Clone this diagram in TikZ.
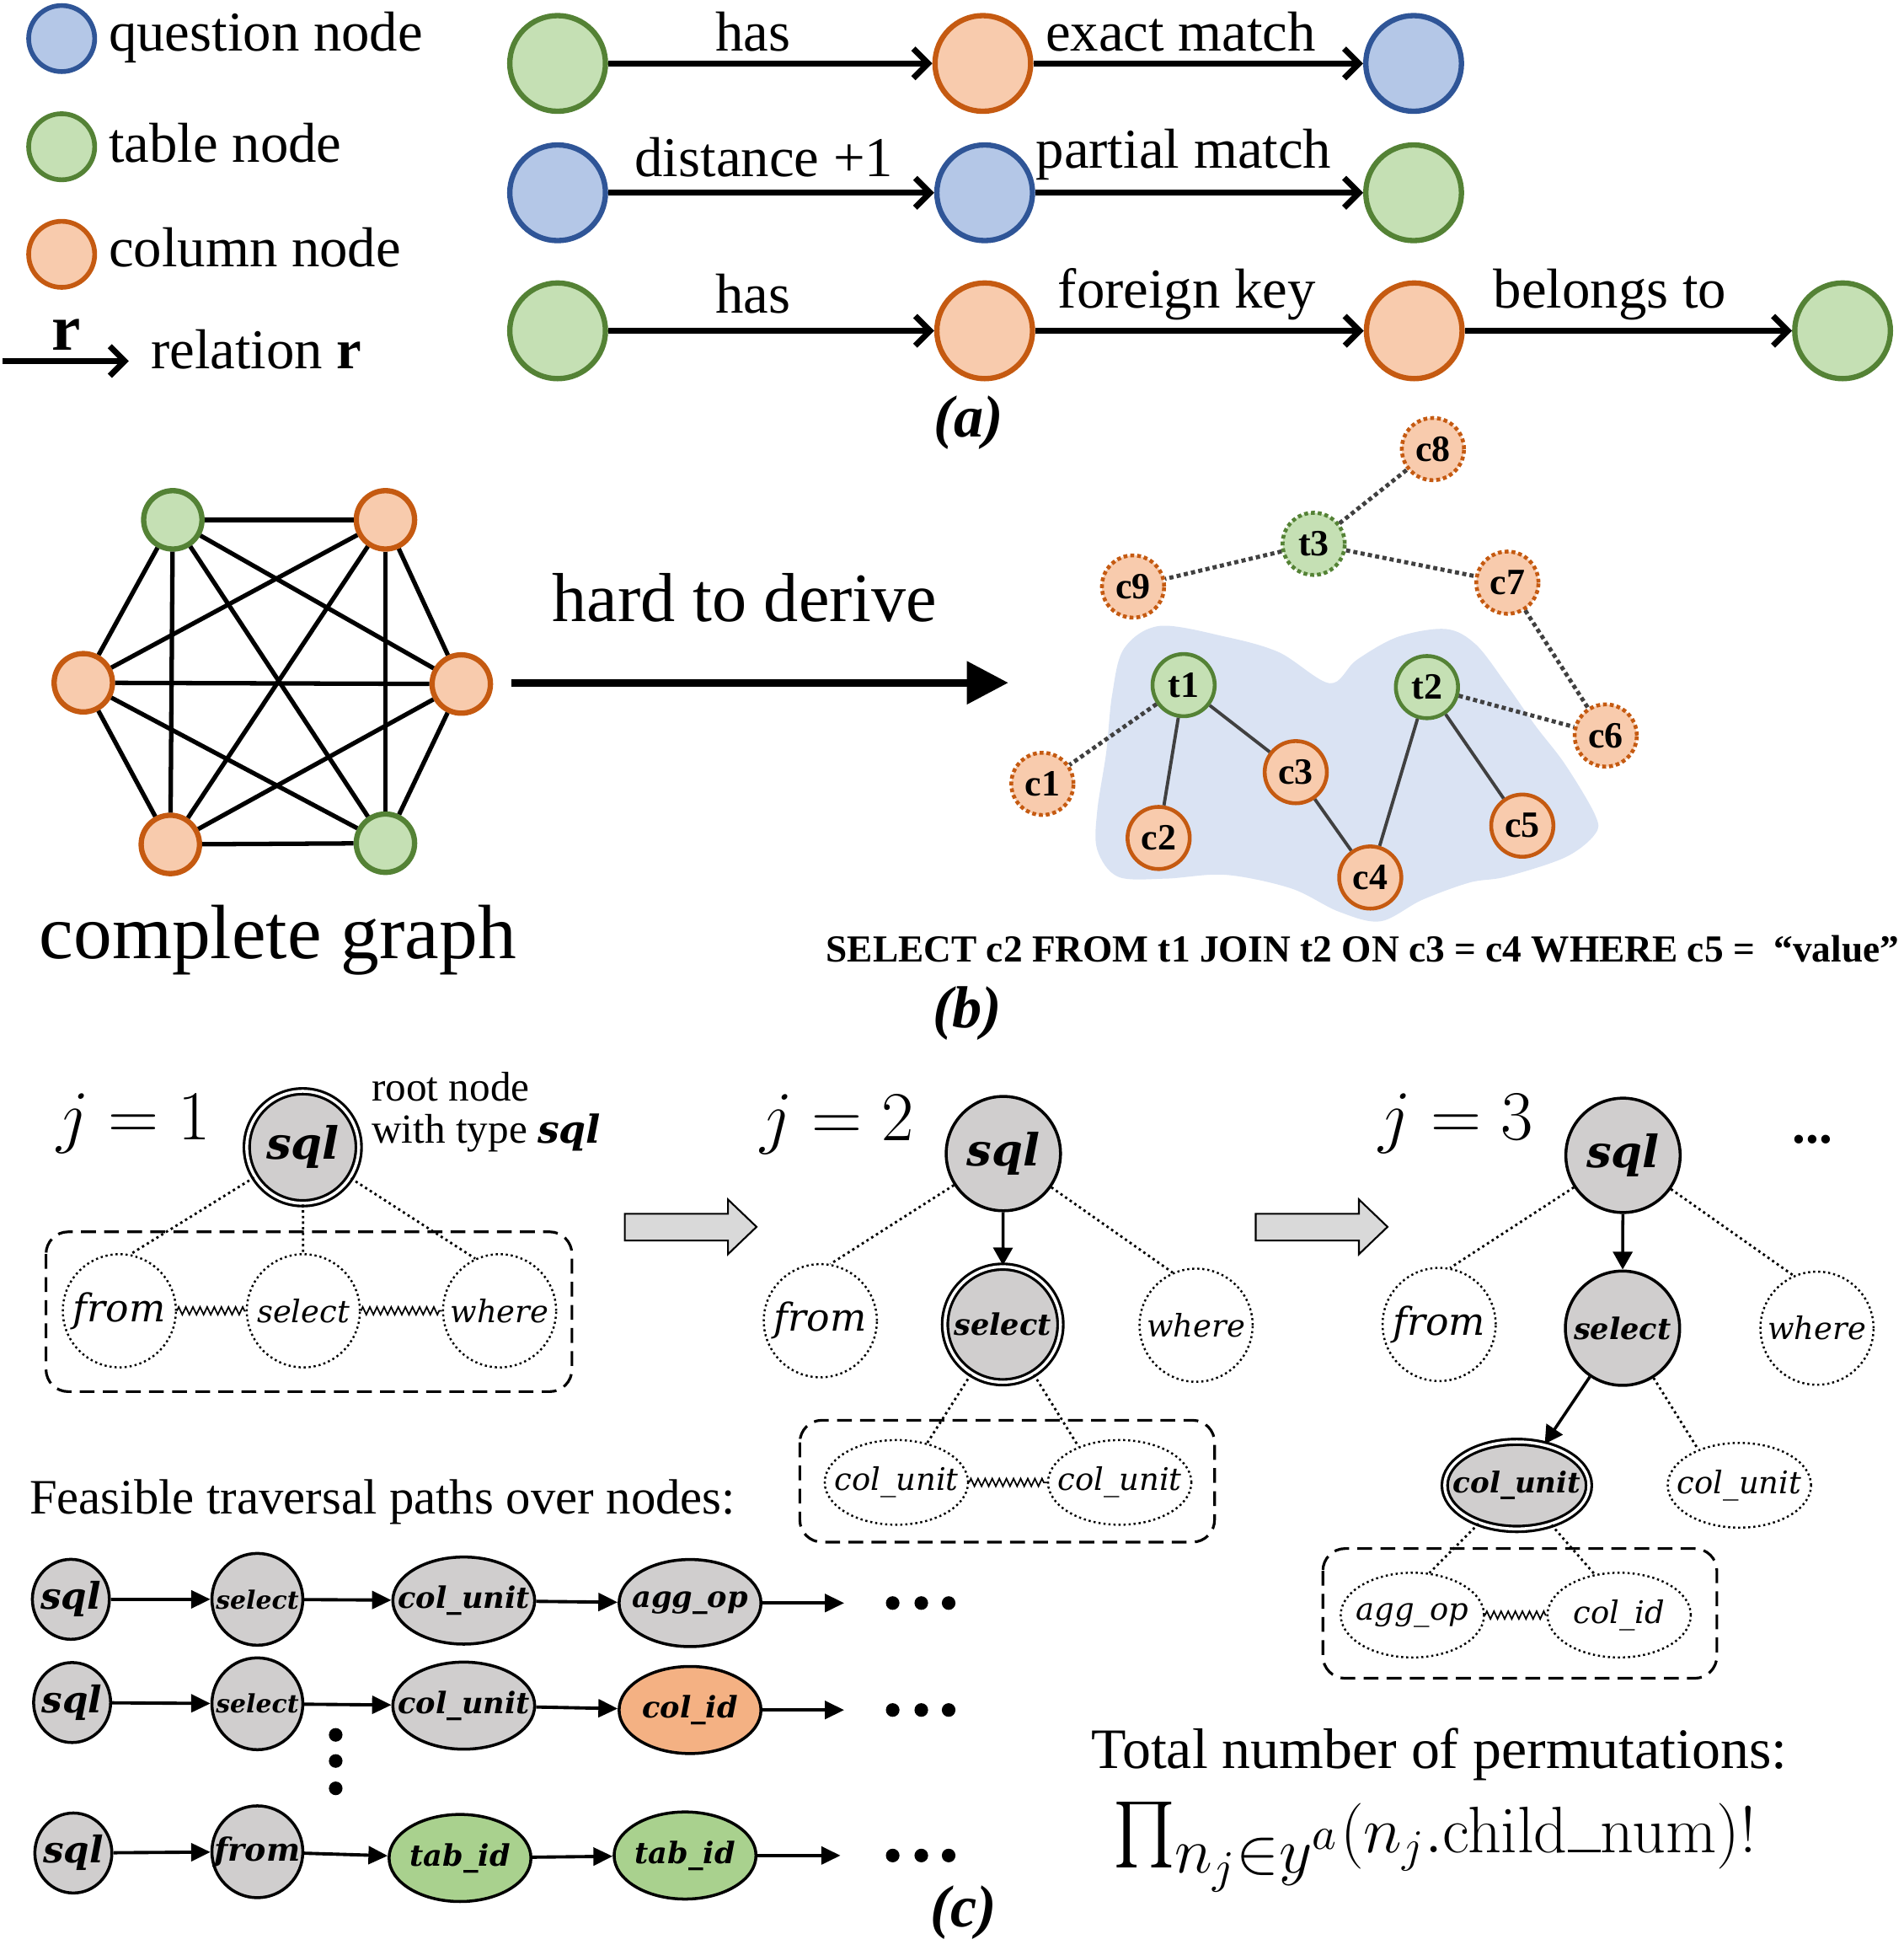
\RequirePackage{fix-cm}
\documentclass[tikz,border=0pt]{standalone}
\usepackage[no-math]{fontspec}
\setmainfont{Liberation Serif}
\newfontfamily\lblfont{DejaVu Serif}
\usepackage{amsmath}
\usepackage{graphicx}
\usetikzlibrary{arrows.meta, shapes.geometric, decorations.pathmorphing, positioning}

\definecolor{qfill}{HTML}{B4C7E7}
\definecolor{qborder}{HTML}{2F5597}
\definecolor{tfill}{HTML}{C5E0B4}
\definecolor{tborder}{HTML}{548235}
\definecolor{cfill}{HTML}{F8CBAD}
\definecolor{cborder}{HTML}{C55A11}
\definecolor{nodegray}{HTML}{D0CECE}
\definecolor{blobfill}{HTML}{DAE3F3}
\definecolor{edgegray}{HTML}{404040}
\definecolor{colidfill}{HTML}{F4B183}
\definecolor{tabidfill}{HTML}{A9D18E}
\definecolor{hollowfill}{HTML}{D9D9D9}

\newcommand{\fsz}[1]{\fontsize{#1}{#1}\selectfont}
% zero-width label, so that an ellipse keeps its own size
\newcommand{\zw}[1]{\makebox[0pt]{#1}}

\begin{document}
\begin{tikzpicture}[x=0.4198pt, y=-0.4198pt,
  qnode/.style={circle, draw=qborder, fill=qfill},
  tnode/.style={circle, draw=tborder, fill=tfill},
  cnode/.style={circle, draw=cborder, fill=cfill},
  leg/.style={minimum size=22.3pt, inner sep=0pt, line width=1.6pt},
  big/.style={minimum size=32.3pt, inner sep=0pt, line width=1.8pt},
  gnode/.style={minimum size=19.7pt, inner sep=0pt, line width=1.8pt},
  bn/.style={minimum size=21pt, inner sep=0pt, line width=1.3pt, font=\fsz{12.5}\bfseries},
  dotb/.style={dash pattern=on 1.3pt off 1pt},
  rel/.style={line width=2pt, -{Straight Barb[length=5pt,width=10pt]}},
  lbl/.style={anchor=base, font=\fsz{19}, inner sep=0pt},
  subcap/.style={font=\fsz{20}\bfseries\itshape, inner sep=0pt},
  sedge/.style={draw=edgegray, line width=1.1pt},
  dedge/.style={draw=edgegray, line width=1.4pt, dash pattern=on 1.4pt off 1.1pt},
  grayn/.style={fill=nodegray, draw=black, line width=1pt},
  dbl/.style={double=white, double distance=1pt, line width=0.9pt},
  opt/.style={draw, line width=0.7pt, dash pattern=on 0.7pt off 1pt},
  rnd/.style={circle, minimum size=38.2pt, inner sep=0pt},
  ell/.style={ellipse, minimum width=48.4pt, minimum height=28.6pt, inner sep=0pt},
  tl/.style={font=\lblfont\itshape\fsz{10.5}},
  tlf/.style={font=\lblfont\itshape\fsz{13}},
  tb/.style={font=\lblfont\bfseries\itshape\fsz{15}},
  tbs/.style={font=\lblfont\bfseries\itshape\fsz{10}},
  tbc/.style={font=\lblfont\bfseries\itshape\fsz{9.7}},
  dotl/.style={line width=0.8pt, dash pattern=on 0.8pt off 1.1pt},
  zz/.style={decorate, decoration={zigzag, amplitude=1.3pt, segment length=2.4pt}, line width=0.5pt},
  dbox/.style={line width=0.9pt, dash pattern=on 5pt off 2.8pt, rounded corners=7.5pt},
  tarr/.style={line width=1pt, -{Triangle[length=6pt,width=6.5pt]}},
  pn/.style={ellipse, draw, line width=1pt, inner sep=0pt, fill=nodegray},
  psql/.style={minimum width=26pt, minimum height=27pt, font=\lblfont\bfseries\itshape\fsz{12.4}},
  psel/.style={minimum width=30.7pt, minimum height=31pt, font=\lblfont\bfseries\itshape\fsz{8.5}},
  pwide/.style={minimum width=47.9pt, minimum height=29.4pt, font=\lblfont\bfseries\itshape\fsz{10}},
  parr/.style={line width=1.1pt, -{Triangle[length=6.5pt,width=6pt]}}]
  \useasboundingbox (0,0) rectangle (1531,1568);

  % legend
  \node[qnode, leg] (lq) at (49.6,31) {};
  \node[lbl, anchor=base west] (lqt) at (87,40.7) {question node};
  \node[tnode, leg] (lt) at (49.6,118) {};
  \node[lbl, anchor=base west] (ltt) at (87,130.6) {table node};
  \node[cnode, leg] (lc) at (49.6,204.5) {};
  \node[lbl, anchor=base west] (lct) at (87,214.2) {column node};
  \coordinate (lr0) at (2,290.3);
  \coordinate (lr1) at (103.6,290.3);
  \draw[rel] (lr0) -- (lr1);
  \node[lbl, font=\fsz{22}\bfseries] (lrr) at (53.5,281.3) {r};
  \node[lbl, anchor=base west] (lrt) at (121,296.4) {relation \textbf{r}};

  % relations, first row
  \node[tnode, big] (a11) at (448.5,51) {};
  \node[cnode, big] (a12) at (790.5,51) {};
  \node[qnode, big] (a13) at (1137,51) {};
  \draw[rel] (a11) -- (a12);
  \draw[rel] (a12) -- (a13);
  \node[lbl] (l11) at (605.8,40.7) {has};
  \node[lbl] (l12) at (949.6,40.7) {exact match};
  % second row
  \node[qnode, big] (a21) at (448.5,155) {};
  \node[qnode, big] (a22) at (792,155) {};
  \node[tnode, big] (a23) at (1137,155) {};
  \draw[rel] (a21) -- (a22);
  \draw[rel] (a22) -- (a23);
  \node[lbl] (l21) at (614.5,141.9) {distance +1};
  \node[lbl] (l22) at (952,135.5) {partial match};
  % third row
  \node[tnode, big] (a31) at (448.5,266) {};
  \node[cnode, big] (a32) at (792,266) {};
  \node[cnode, big] (a33) at (1137.5,266) {};
  \node[tnode, big] (a34) at (1482,266) {};
  \draw[rel] (a31) -- (a32);
  \draw[rel] (a32) -- (a33);
  \draw[rel] (a33) -- (a34);
  \node[lbl] (l31) at (605.8,252) {has};
  \node[lbl] (l32) at (954.6,247.4) {foreign key};
  \node[lbl] (l33) at (1295,247.4) {belongs to};
  \node[subcap] (capa) at (779,340) {(a)};

  % complete graph
  \node[tnode, gnode] (g1) at (139,418) {};
  \node[cnode, gnode] (g2) at (310,418) {};
  \node[cnode, gnode] (g3) at (67,549) {};
  \node[cnode, gnode] (g4) at (371,550) {};
  \node[cnode, gnode] (g5) at (137,679) {};
  \node[tnode, gnode] (g6) at (310,678) {};
  \foreach \i/\j in {g1/g2,g1/g3,g1/g4,g1/g5,g1/g6,g2/g3,g2/g4,g2/g5,g2/g6,g3/g4,g3/g5,g3/g6,g4/g5,g4/g6,g5/g6}
    \draw[line width=1.5pt] (\i) -- (\j);
  \node[anchor=base, font=\fsz{26}, inner sep=0pt] (cg) at (223.5,771) {complete graph};
  \node[anchor=base, font=\fsz{23.4}, inner sep=0pt] (hd) at (599,500) {hard to derive};
  \coordinate (hs) at (411,549);
  \coordinate (he) at (811,549);
  \draw[line width=2.5pt, -{Triangle[length=14pt,width=14pt]}] (hs) -- (he);

  % schema subgraph
  \fill[blobfill] plot[smooth cycle, tension=0.55] coordinates {
    (932.8,503.3) (985.6,512) (1028.7,524.5) (1069.5,549.4) (1091.1,530.7)
    (1124.6,512) (1163,505.8) (1187,518.2) (1211,549.4) (1235,583.6)
    (1258.9,614.7) (1282.9,655.2) (1282.9,670.7) (1258.9,689.4) (1211,705)
    (1182.2,709.6) (1143.8,723.6) (1110.3,740.8) (1076.7,733) (1038.3,714.3)
    (985.6,703.4) (937.6,706.5) (899.3,705) (882.5,683.2) (882.5,652.1)
    (889.7,605.4) (894.5,558.7) (904.1,521.4)};
  \node[cnode, bn, dotb] (c8) at (1152.5,361.1) {c8};
  \node[tnode, bn, dotb] (t3) at (1056.6,437.3) {t3};
  \node[cnode, bn, dotb] (c9) at (911.3,471.6) {c9};
  \node[cnode, bn, dotb] (c7) at (1212.4,468.5) {c7};
  \node[tnode, bn] (t1) at (952,550.9) {t1};
  \node[tnode, bn] (t2) at (1147.7,552.5) {t2};
  \node[cnode, bn, dotb] (c6) at (1291.5,591.4) {c6};
  \node[cnode, bn, dotb] (c1) at (838.4,630.3) {c1};
  \node[cnode, bn] (c3) at (1042.2,620.9) {c3};
  \node[cnode, bn] (c2) at (931.9,673.8) {c2};
  \node[cnode, bn] (c5) at (1224.4,663.9) {c5};
  \node[cnode, bn] (c4) at (1102.1,705.6) {c4};
  \draw[sedge] (t1) -- (c2);
  \draw[sedge] (t1) -- (c3);
  \draw[sedge] (c3) -- (c4);
  \draw[sedge] (t2) -- (c4);
  \draw[sedge] (t2) -- (c5);
  \draw[dedge] (t1) -- (c1);
  \draw[dedge] (t2) -- (c6);
  \draw[dedge] (c7) -- (c6);
  \draw[dedge] (t3) -- (c7);
  \draw[dedge] (t3) -- (c9);
  \draw[dedge] (t3) -- (c8);
  \node[anchor=base west, font=\fsz{12.9}\bfseries, inner sep=0pt] (sqlq) at (664,773.7)
    {SELECT c2 FROM t1 JOIN t2 ON c3 = c4 WHERE c5 = \ “value”};
  \node[subcap] (capb) at (778,815) {(b)};

  % step j=1
  \node[anchor=base west, font=\fsz{23.7}, inner sep=0pt] (j1) at (45,916.6) {$j=1$};
  \node[circle, grayn, dbl, minimum size=37.8pt, inner sep=0pt, tb] (s1) at (243.5,922.5) {sql};
  \node[anchor=base west, font=\fsz{14}, inner sep=0pt] (rn) at (298.6,885.5) {root node};
  \node[anchor=base west, font=\fsz{14}, inner sep=0pt] (rt) at (298.6,919.2)
    {with type {\lblfont\bfseries\itshape\fsz{13}sql}};
  \node[rnd, opt, tlf] (f1) at (96,1054) {from};
  \node[rnd, opt, tl] (se1) at (244,1054) {select};
  \node[rnd, opt, tl] (w1) at (401.8,1054) {where};
  \draw[dotl] (s1) -- (f1.79);
  \draw[dotl] (s1) -- (se1);
  \draw[dotl] (s1) -- (w1.115);
  \draw[zz] (f1) -- (se1);
  \draw[zz] (se1) -- (w1);
  \draw[dbox] (37,990.5) rectangle (460,1119);

  % hollow step arrows
  \foreach \xs in {502.5,1010}
    \filldraw[fill=hollowfill, draw=black, line width=0.6pt]
      (\xs,976) -- ++(83,0) -- ++(0,-11.5) -- ++(23,22) -- ++(-23,22) -- ++(0,-11) -- ++(-83,0) -- cycle;

  % step j=2
  \node[anchor=base west, font=\fsz{23.7}, inner sep=0pt] (j2) at (611,916.9) {$j=2$};
  \node[circle, grayn, minimum size=38.6pt, inner sep=0pt, tb] (s2) at (807,927.6) {sql};
  \node[rnd, opt, tlf] (f2) at (659.8,1062) {from};
  \node[circle, grayn, dbl, minimum size=39pt, inner sep=0pt, tbs] (se2) at (806.5,1065) {select};
  \node[rnd, opt, tl] (w2) at (962,1065.6) {where};
  \draw[dotl] (s2) -- (f2.80);
  \draw[dotl] (s2) -- (w2.114);
  \draw[tarr] (s2) -- (se2);
  \node[ell, opt, tl] (cu21) at (721,1192) {\zw{col\_unit}};
  \node[ell, opt, tl] (cu22) at (900.6,1192) {\zw{col\_unit}};
  \draw[dotl] (se2) -- (cu21.52);
  \draw[dotl] (se2) -- (cu22.139);
  \draw[zz] (cu21) -- (cu22);
  \draw[dbox] (643.3,1142) rectangle (976.9,1240);

  % step j=3
  \node[anchor=base west, font=\fsz{23.7}, inner sep=0pt] (j3) at (1108.7,916.3) {$j=3$};
  \node[font=\fsz{18}\bfseries, anchor=base, inner sep=0pt] (more) at (1458,919) {...};
  \node[circle, grayn, minimum size=38.6pt, inner sep=0pt, tb] (s3) at (1305.4,929) {sql};
  \node[rnd, opt, tlf] (f3) at (1157.5,1065) {from};
  \node[circle, grayn, minimum size=38.6pt, inner sep=0pt, tbs] (se3) at (1305,1068) {select};
  \node[rnd, opt, tl] (w3) at (1461.4,1068) {where};
  \draw[dotl] (s3) -- (f3.79);
  \draw[dotl] (s3) -- (w3.114);
  \draw[tarr] (s3) -- (se3);
  \node[ellipse, grayn, dbl, minimum width=48.7pt, minimum height=29.4pt, inner sep=0pt, tbc] (cu31) at (1220,1194.4) {\zw{col\_unit}};
  \node[ell, opt, tl] (cu32) at (1399,1194.3) {\zw{col\_unit}};
  \draw[tarr] (se3) -- (cu31);
  \draw[dotl] (se3) -- (cu32.139);
  \node[ell, opt, tl] (ag3) at (1136,1298.7) {\zw{agg\_op}};
  \node[ell, opt, tl] (ci3) at (1302.3,1298.7) {\zw{col\_id}};
  \draw[dotl] (cu31) -- (ag3.68);
  \draw[dotl] (cu31) -- (ci3.121);
  \draw[zz] (ag3) -- (ci3);
  \draw[dbox] (1064,1245.2) rectangle (1380.9,1349.5);

  % traversal paths
  \node[anchor=base west, font=\fsz{16.7}, inner sep=0pt] (feas) at (23.3,1217) {Feasible traversal paths over nodes:};
  \node[pn, psql] (p11) at (57,1286) {\zw{sql}};
  \node[pn, psel] (p12) at (207,1286) {\zw{select}};
  \node[pn, pwide] (p13) at (373,1287) {\zw{col\_unit}};
  \node[pn, pwide] (p14) at (555,1289) {\zw{agg\_op}};
  \coordinate (p15) at (679,1289);
  \node[pn, psql] (p21) at (58,1369) {\zw{sql}};
  \node[pn, psel] (p22) at (207,1370) {\zw{select}};
  \node[pn, pwide] (p23) at (373,1371.5) {\zw{col\_unit}};
  \node[pn, pwide, fill=colidfill] (p24) at (555,1375) {\zw{col\_id}};
  \coordinate (p25) at (679,1375);
  \node[pn, psql] (p31) at (59,1490) {\zw{sql}};
  \node[pn, psel, font=\lblfont\bfseries\itshape\fsz{10.8}] (p32) at (207,1489) {\zw{from}};
  \node[pn, pwide, fill=tabidfill] (p33) at (370,1494) {\zw{tab\_id}};
  \node[pn, pwide, fill=tabidfill] (p34) at (551,1492) {\zw{tab\_id}};
  \coordinate (p35) at (676,1492);
  \foreach \r in {1,2,3} {
    \draw[parr] (p\r1) -- (p\r2);
    \draw[parr] (p\r2) -- (p\r3);
    \draw[parr] (p\r3) -- (p\r4);
    \draw[parr] (p\r4) -- (p\r5);
  }
  \foreach \yy in {1289,1375,1492}
    \foreach \xx in {718,741,763}
      \fill (\xx,\yy) circle (2.3pt);
  \foreach \yy in {1395,1416,1438}
    \fill (270,\yy) circle (2.3pt);

  % permutations
  \node[anchor=base west, font=\fsz{19.3}, inner sep=0pt] (tot) at (877.3,1422.2) {Total number of permutations:};
  \node[anchor=base west, font=\fsz{22.2}, inner sep=0pt] (form) at (894.8,1489.5)
    {$\mathop{\scalebox{1.07}{$\prod$}}\nolimits_{\scalebox{1.4}{$\scriptstyle n_j\in y^a$}}(n_j.\mathrm{child}\rule{0.5em}{0.04em}\mathrm{num})!$};
  \node[subcap] (capc) at (775,1538) {(c)};
\end{tikzpicture}
\end{document}
